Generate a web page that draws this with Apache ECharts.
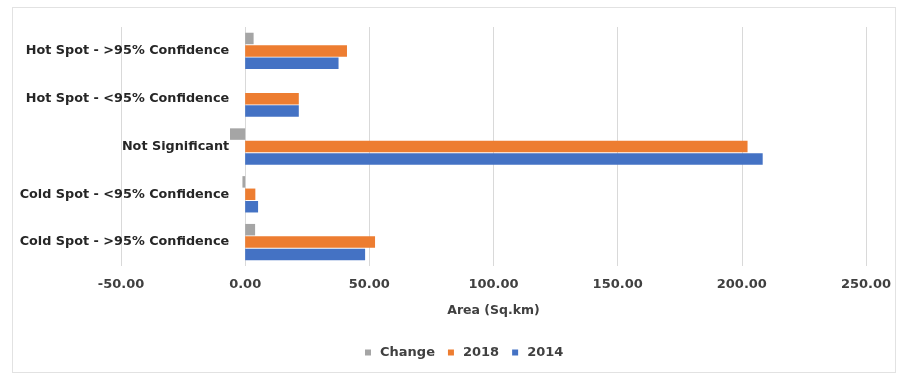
<!DOCTYPE html>
<html>
<head>
<meta charset="utf-8">
<script src="https://cdn.jsdelivr.net/npm/echarts@6/dist/echarts.min.js"></script>
<style>
  html, body { margin: 0; padding: 0; background: #fff; }
  #chart { width: 900px; height: 375px; }
  #frame { position: absolute; left: 12px; top: 7px; width: 882px; height: 364px; border: 1px solid #e2e2e2; pointer-events: none; }
</style>
</head>
<body>
<div id="chart"></div>
<div id="frame"></div>
<script>
// categories from bottom to top (echarts category axis starts at the bottom)
const categories = [
  'Cold Spot - >95% Confidence',
  'Cold Spot - <95% Confidence',
  'Not Significant',
  'Hot Spot - <95% Confidence',
  'Hot Spot - >95% Confidence'
];
const values2014 = [48.3, 5.2, 208.4, 21.6, 37.6];
const values2018 = [52.3, 4.1, 202.3, 21.6, 41.0];
const valuesChange = [4.0, -1.1, -6.1, 0.0, 3.4];
const xTicks = [-50, 0, 50, 100, 150, 200, 250];

const labelFont = { fontFamily: 'DejaVu Sans', fontWeight: 'bold' };

const gridLeft = 121;
const gridRight = 34;
const plotWidth = 900 - gridLeft - gridRight;
// category labels sit next to the zero line, like in the original
const zeroShift = plotWidth * (0 - xTicks[0]) / (xTicks[xTicks.length - 1] - xTicks[0]);

const chart = echarts.init(document.getElementById('chart'));

const barOpts = { barWidth: 11.5, barGap: '8%', barCategoryGap: '25%' };

chart.setOption({
  animation: false,
  grid: { left: gridLeft, right: gridRight, top: 27, bottom: 109, outerBoundsMode: 'none', containLabel: false },
  legend: {
    data: ['Change', '2018', '2014'],
    top: 341,
    left: 360,
    itemWidth: 6,
    itemHeight: 6,
    itemGap: 13,
    icon: 'rect',
    textStyle: Object.assign({ fontSize: 13, color: '#404040', padding: [0, 0, 0, 4] }, labelFont)
  },
  xAxis: {
    type: 'value',
    min: xTicks[0],
    max: xTicks[xTicks.length - 1],
    interval: 50,
    name: 'Area (Sq.km)',
    nameLocation: 'middle',
    nameGap: 38,
    nameTextStyle: Object.assign({ fontSize: 12.5, color: '#404040' }, labelFont),
    axisLine: { show: false },
    axisTick: { show: false },
    axisLabel: Object.assign({ fontSize: 13, margin: 12, color: '#404040', formatter: (v) => v.toFixed(2) }, labelFont),
    splitLine: { lineStyle: { color: '#d9d9d9' } }
  },
  yAxis: {
    type: 'category',
    data: categories,
    offset: -zeroShift,
    axisLine: { show: false, onZero: false },
    axisTick: { show: false },
    axisLabel: Object.assign({ fontSize: 12.8, margin: 16, color: '#262626' }, labelFont)
  },
  series: [
    Object.assign({ name: 'Change', type: 'bar', data: valuesChange, itemStyle: { color: '#A5A5A5' } }, barOpts),
    Object.assign({ name: '2018', type: 'bar', data: values2018, itemStyle: { color: '#ED7D31' } }, barOpts),
    Object.assign({ name: '2014', type: 'bar', data: values2014, itemStyle: { color: '#4472C4' } }, barOpts)
  ]
});
</script>
</body>
</html>
